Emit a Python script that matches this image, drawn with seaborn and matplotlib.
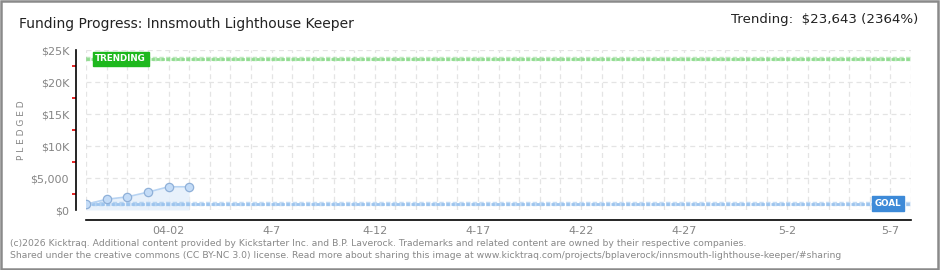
import matplotlib
matplotlib.use("Agg")
import matplotlib.pyplot as plt
from matplotlib.patches import Rectangle
import seaborn as sns
import pandas as pd

# ---- data ----
dates = ["2026-03-29", "2026-03-30", "2026-03-31", "2026-04-01", "2026-04-02", "2026-04-03"]
pledged = [900, 1680, 2050, 2790, 3630, 3630]
goal = 1000
trending = 23643
x_start = "2026-03-29"
x_end = "2026-05-08"
tick_label_dates = ["2026-04-02", "2026-04-07", "2026-04-12", "2026-04-17",
                    "2026-04-22", "2026-04-27", "2026-05-02", "2026-05-07"]
tick_label_texts = ["04-02", "4-7", "4-12", "4-17", "4-22", "4-27", "5-2", "5-7"]
y_ticks = [0, 5000, 10000, 15000, 20000, 25000]
y_tick_labels = ["$0", "$5,000", "$10K", "$15K", "$20K", "$25K"]
title = "Funding Progress: Innsmouth Lighthouse Keeper"
trend_text = "Trending:  $23,643 (2364%)"
footer1 = "(c)2026 Kicktraq. Additional content provided by Kickstarter Inc. and B.P. Laverock. Trademarks and related content are owned by their respective companies."
footer2 = "Shared under the creative commons (CC BY-NC 3.0) license. Read more about sharing this image at www.kicktraq.com/projects/bplaverock/innsmouth-lighthouse-keeper/#sharing"

df = pd.DataFrame({"date": pd.to_datetime(dates), "pledged": pledged})

sns.set_theme(style="white")
plt.rcParams["font.family"] = ["DejaVu Sans"]

fig = plt.figure(figsize=(9.4, 2.7), dpi=100)
ax = fig.add_axes([86/940, 1-210/270, (911-86)/940, 160/270])

x0 = pd.Timestamp(x_start)
x1 = pd.Timestamp(x_end)
ax.set_xlim(x0, x1)
ax.set_ylim(0, 25000)

# grid
all_days = pd.date_range(x0, x1, freq="D")
for d in all_days:
    ax.axvline(d, color="#e4e4e4", lw=0.9, ls=(0, (4, 3)), zorder=0)
for yv in y_ticks:
    ax.axhline(yv, color="#e4e4e4", lw=0.9, ls=(0, (4, 3)), zorder=0)

# area + line
ax.fill_between(df["date"], df["pledged"], 0, color="#e6f0fb", alpha=0.9, zorder=1, lw=0)
sns.lineplot(data=df, x="date", y="pledged", ax=ax, color="#b7d3f2", lw=1.2, zorder=3)
sns.scatterplot(data=df, x="date", y="pledged", ax=ax, s=36, color="#c4dcf7",
                edgecolor="#8fb0d8", linewidth=0.9, zorder=4)

# goal and trending lines
ax.axhline(trending, color="#4cc24c", lw=3.2, ls=(0, (1.0, 0.5)), zorder=2, alpha=0.35)
ax.axhline(trending, color="#8fdc8f", lw=2.0, ls=(0, (1.2, 0.6)), zorder=2)
ax.axhline(goal, color="#5a9be0", lw=3.2, ls=(0, (1.0, 0.5)), zorder=2, alpha=0.35)
ax.axhline(goal, color="#9cc4ee", lw=2.0, ls=(0, (1.2, 0.6)), zorder=2)

# label boxes
ax.text(x0 + pd.Timedelta(days=0.45), trending, "TRENDING", color="white", fontsize=6.3,
        fontweight="bold", va="center", ha="left", zorder=6,
        bbox=dict(boxstyle="square,pad=0.3", fc="#1eb81e", ec="#1eb81e"))
ax.text(x0 + pd.Timedelta(days=39.55), goal, "GOAL", color="white", fontsize=6.3,
        fontweight="bold", va="center", ha="right", zorder=6,
        bbox=dict(boxstyle="square,pad=0.3", fc="#3d8ad8", ec="#3d8ad8"))

# axes styling
for s in ["top", "right"]:
    ax.spines[s].set_visible(False)
ax.spines["left"].set_position(("outward", 7.2))
ax.spines["bottom"].set_position(("outward", 7.2))
ax.spines["left"].set_color("black")
ax.spines["bottom"].set_color("black")
ax.spines["left"].set_linewidth(1.2)
ax.spines["bottom"].set_linewidth(1.2)

ax.set_yticks(y_ticks)
ax.set_yticklabels(y_tick_labels)
ax.set_yticks([2500, 7500, 12500, 17500, 22500], minor=True)
ax.tick_params(axis="y", which="major", direction="inout", length=6, width=1.2,
               color="black", labelsize=8, labelcolor="#858585", pad=2)
ax.tick_params(axis="y", which="minor", direction="out", length=3, width=1.2,
               color="#e00000", left=True)

ax.set_xticks(all_days)
lab_map = {pd.Timestamp(d): t for d, t in zip(tick_label_dates, tick_label_texts)}
ax.set_xticklabels([lab_map.get(d, "") for d in all_days])
ax.tick_params(axis="x", which="major", direction="inout", length=6, width=1.2,
               color="black", labelsize=8, labelcolor="#858585", pad=1)
ax.set_xlabel("")
ax.set_ylabel("P L E D G E D", fontsize=6.5, color="#858585", labelpad=3)

# titles
fig.text(19/940, 1-24/270, title, fontsize=10, color="#222222", va="center", ha="left")
fig.text(918/940, 1-20/270, trend_text, fontsize=9.6, color="#222222", va="center", ha="right")

# footer
fig.text(10/940, 1-243/270, footer1, fontsize=6.7, color="#888888", va="center", ha="left")
fig.text(10/940, 1-255/270, footer2, fontsize=6.7, color="#888888", va="center", ha="left")

# frame
fig.patches.append(Rectangle((0.001, 0.002), 0.997, 0.995, transform=fig.transFigure,
                             fill=False, ec="#8a8a8a", lw=1.8))

fig.savefig("out.png", dpi=100)
